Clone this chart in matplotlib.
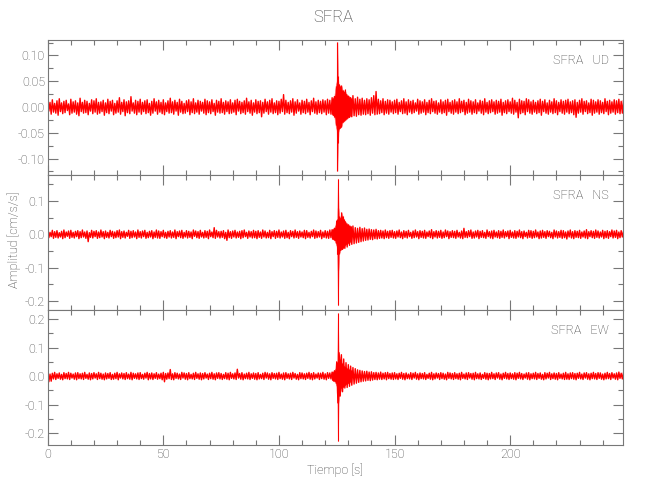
import matplotlib
matplotlib.use("Agg")
import matplotlib.pyplot as plt
import numpy as np
from matplotlib.ticker import MultipleLocator, FormatStrFormatter

plt.rcParams['font.family'] = ['Roboto', 'DejaVu Sans']
plt.rcParams['font.weight'] = 'light'

# trace envelopes: max/min of each 1 s bin, in units of 0.001 cm/s/s
t_base = list(range(250))

ud_hi = [24, 9, 14, 7, 12, 16, 8, 11, 13, 6, 15, 10, 12, 8, 17, 9, 13, 11, 7, 14, 12, 16, 9, 10, 13,
         8, 15, 11, 13, 7, 12, 18, 9, 14, 10, 12, 20, 8, 13, 11, 15, 9, 12, 14, 7, 11, 16, 10, 13, 9,
         14, 8, 12, 17, 10, 13, 9, 15, 11, 7, 12, 14, 10, 16, 8, 13, 11, 9, 15, 12, 10, 14, 7, 13, 11,
         16, 9, 12, 10, 14, 8, 13, 15, 11, 9, 12, 17, 10, 13, 8, 14, 11, 12, 9, 15, 10, 13, 16, 8, 12,
         11, 15, 24, 13, 9, 12, 16, 10, 14, 8, 13, 11, 15, 9, 12, 17, 10, 13, 11, 14, 12, 15, 13, 18, 20,
         30, 28, 25, 22, 24, 20, 18, 22, 16, 19, 15, 17, 13, 16, 14, 18, 22, 30, 15, 12, 16, 11, 14, 13, 10,
         13, 15, 9, 12, 16, 10, 14, 11, 13, 8, 15, 12, 10, 14, 9, 13, 16, 11, 12, 8, 14, 10, 13, 15, 9,
         12, 14, 10, 16, 11, 13, 9, 15, 12, 10, 14, 8, 13, 11, 16, 9, 12, 14, 10, 13, 11, 15, 9, 12, 14,
         10, 17, 13, 9, 15, 12, 11, 16, 14, 10, 13, 9, 12, 15, 11, 14, 8, 13, 10, 16, 12, 9, 14, 11, 13,
         15, 10, 12, 14, 9, 13, 16, 11, 12, 8, 15, 13, 10, 14, 12, 9, 16, 11, 13, 10, 14, 12, 15, 11, 13]
ud_lo = [-8, -14, -10, -12, -16, -9, -13, -11, -7, -15, -12, -10, -14, -17, -9, -12, -11, -15, -8, -13, -10, -14, -12, -9, -16,
         -11, -13, -8, -15, -12, -10, -14, -9, -17, -11, -13, -8, -12, -15, -10, -14, -9, -13, -11, -16, -12, -8, -14, -10, -13,
         -15, -9, -12, -11, -14, -8, -16, -10, -13, -12, -9, -15, -11, -13, -10, -14, -8, -12, -15, -11, -13, -9, -16, -10, -12,
         -11, -14, -9, -13, -12, -10, -15, -8, -13, -11, -14, -9, -12, -16, -10, -13, -11, -19, -12, -9, -14, -10, -13, -11, -15,
         -12, -9, -14, -11, -13, -10, -16, -12, -8, -14, -11, -13, -10, -15, -9, -12, -14, -11, -13, -10, -15, -12, -14, -16, -18,
         -30, -28, -26, -24, -22, -20, -19, -17, -18, -15, -16, -14, -15, -13, -16, -12, -15, -14, -13, -11, -15, -12, -14, -10, -13,
         -11, -14, -9, -13, -12, -15, -10, -13, -11, -8, -14, -12, -10, -15, -11, -13, -9, -12, -14, -10, -13, -11, -16, -9, -12,
         -14, -10, -13, -11, -9, -15, -12, -10, -14, -11, -13, -8, -12, -15, -10, -13, -11, -9, -14, -12, -10, -16, -11, -13, -9,
         -12, -14, -10, -21, -13, -11, -15, -9, -12, -14, -10, -13, -11, -16, -9, -12, -14, -10, -13, -11, -15, -9, -12, -14, -10,
         -13, -11, -15, -20, -12, -10, -14, -9, -13, -11, -16, -12, -10, -14, -11, -13, -9, -15, -12, -10, -14, -11, -13, -12, -10]

ns_hi = [10, 6, 12, 8, 11, 5, 9, 13, 7, 10, 12, 6, 9, 11, 8, 13, 7, 10, 5, 12, 9, 11, 7, 13, 8,
         10, 6, 12, 9, 7, 11, 13, 8, 10, 6, 12, 9, 11, 7, 13, 8, 10, 12, 6, 9, 11, 7, 13, 10, 8,
         12, 6, 9, 11, 7, 13, 8, 10, 12, 6, 11, 9, 7, 13, 10, 8, 12, 6, 11, 9, 13, 7, 20, 12, 8,
         9, 11, 6, 13, 8, 10, 12, 7, 9, 11, 13, 6, 10, 8, 12, 9, 11, 7, 13, 10, 6, 12, 8, 11, 9,
         13, 7, 10, 12, 6, 11, 9, 13, 8, 10, 7, 12, 11, 6, 9, 13, 10, 8, 12, 7, 11, 9, 13, 14, 18,
         40, 35, 30, 26, 28, 24, 22, 25, 20, 18, 21, 17, 19, 15, 16, 14, 13, 15, 11, 12, 10, 13, 9, 11, 12,
         8, 10, 13, 7, 11, 9, 12, 6, 10, 13, 8, 11, 9, 12, 7, 10, 14, 8, 11, 9, 12, 7, 13, 10, 8,
         11, 9, 12, 6, 10, 18, 8, 11, 13, 7, 10, 12, 9, 11, 6, 13, 8, 10, 12, 7, 11, 9, 13, 8, 10,
         12, 7, 11, 9, 13, 8, 10, 6, 12, 11, 9, 13, 7, 10, 12, 8, 11, 9, 6, 13, 10, 8, 12, 11, 7,
         10, 13, 8, 11, 9, 12, 7, 10, 14, 8, 11, 9, 13, 10, 7, 12, 9, 11, 8, 13, 10, 12, 7, 11, 9]
ns_lo = [-10, -7, -12, -9, -11, -8, -13, -10, -6, -12, -9, -11, -7, -13, -10, -8, -12, -22, -9, -11, -7, -12, -10, -8, -13,
         -9, -11, -7, -12, -10, -8, -13, -9, -11, -6, -12, -10, -8, -13, -9, -11, -7, -12, -10, -8, -13, -9, -11, -12, -7,
         -10, -12, -8, -11, -9, -13, -7, -10, -12, -8, -11, -9, -13, -6, -10, -12, -8, -11, -9, -13, -7, -10, -12, -8, -11,
         -9, -13, -18, -10, -12, -8, -11, -9, -13, -10, -7, -12, -8, -11, -10, -13, -9, -12, -8, -11, -10, -13, -7, -12, -9,
         -11, -8, -12, -10, -13, -7, -11, -9, -12, -8, -10, -13, -9, -11, -7, -12, -10, -8, -13, -9, -11, -12, -10, -14, -18,
         -60, -48, -45, -42, -38, -33, -30, -28, -26, -24, -22, -20, -18, -17, -15, -16, -13, -14, -12, -11, -13, -10, -12, -9, -11,
         -12, -8, -10, -13, -9, -11, -7, -12, -10, -8, -13, -9, -11, -12, -7, -10, -13, -8, -11, -9, -12, -10, -7, -13, -9,
         -10, -12, -8, -11, -13, -9, -10, -7, -12, -11, -8, -13, -9, -10, -12, -7, -11, -13, -8, -10, -12, -9, -11, -7, -13,
         -9, -11, -12, -8, -10, -13, -7, -11, -9, -12, -10, -8, -13, -11, -9, -12, -7, -10, -13, -8, -11, -9, -12, -10, -14,
         -8, -11, -13, -9, -10, -12, -8, -11, -13, -7, -10, -12, -9, -11, -8, -13, -10, -12, -7, -11, -9, -13, -10, -8, -12]

ew_hi = [12, 7, 10, 13, 8, 11, 6, 12, 9, 13, 10, 7, 11, 12, 8, 10, 13, 6, 11, 9, 12, 8, 13, 10, 7,
         11, 9, 12, 6, 10, 13, 8, 11, 9, 12, 7, 13, 10, 8, 11, 12, 6, 10, 13, 9, 11, 8, 12, 7, 10,
         13, 9, 11, 23, 8, 12, 10, 7, 13, 11, 9, 12, 6, 10, 13, 8, 11, 9, 12, 7, 10, 13, 8, 11, 12,
         9, 6, 12, 10, 13, 8, 11, 24, 9, 12, 7, 10, 13, 8, 11, 9, 12, 6, 10, 13, 11, 8, 12, 9, 10,
         13, 7, 11, 12, 8, 10, 13, 9, 6, 12, 11, 8, 10, 13, 9, 12, 7, 11, 10, 13, 8, 12, 11, 14, 18,
         50, 82, 75, 60, 47, 40, 35, 30, 26, 22, 20, 18, 16, 17, 14, 15, 12, 13, 11, 14, 10, 12, 13, 9, 11,
         12, 8, 10, 13, 9, 11, 7, 12, 10, 13, 8, 11, 9, 12, 6, 10, 13, 8, 11, 9, 12, 10, 7, 13, 11,
         9, 12, 8, 10, 13, 7, 11, 12, 9, 10, 13, 8, 11, 6, 12, 10, 9, 13, 8, 11, 12, 7, 10, 13, 9,
         11, 8, 12, 10, 13, 9, 7, 11, 12, 8, 10, 13, 9, 11, 6, 12, 10, 13, 8, 11, 9, 12, 7, 10, 13,
         8, 11, 12, 9, 10, 13, 7, 11, 12, 8, 10, 13, 9, 12, 11, 7, 10, 13, 9, 12, 8, 11, 14, 10, 12]
ew_lo = [-20, -18, -10, -12, -8, -11, -13, -9, -10, -12, -7, -11, -13, -9, -10, -12, -8, -11, -13, -10, -7, -12, -9, -11, -13,
         -10, -8, -12, -11, -9, -13, -7, -10, -12, -9, -11, -13, -8, -10, -12, -9, -11, -7, -13, -10, -12, -8, -11, -9, -13,
         -20, -11, -9, -12, -13, -8, -10, -12, -7, -11, -13, -9, -10, -12, -8, -11, -13, -10, -7, -12, -9, -11, -13, -8, -10,
         -12, -9, -11, -13, -8, -10, -12, -7, -11, -13, -9, -10, -12, -8, -11, -13, -10, -9, -12, -7, -11, -13, -8, -10, -12,
         -9, -11, -13, -8, -10, -12, -7, -11, -13, -9, -10, -12, -8, -11, -13, -10, -7, -12, -9, -11, -13, -8, -10, -14, -17,
         -94, -70, -55, -42, -40, -36, -32, -28, -25, -22, -20, -18, -17, -15, -16, -14, -12, -13, -11, -12, -10, -13, -9, -11, -12,
         -10, -12, -8, -11, -13, -9, -10, -12, -7, -11, -13, -9, -10, -12, -8, -11, -13, -10, -7, -12, -9, -11, -13, -8, -10,
         -12, -9, -11, -13, -8, -10, -12, -7, -11, -13, -9, -10, -12, -8, -11, -13, -10, -9, -12, -7, -11, -13, -8, -10, -12,
         -9, -11, -13, -8, -10, -12, -7, -11, -13, -9, -10, -12, -8, -11, -13, -10, -7, -12, -9, -11, -13, -8, -10, -12, -11,
         -12, -9, -11, -13, -8, -10, -12, -7, -11, -13, -9, -10, -12, -8, -11, -13, -10, -9, -12, -7, -11, -13, -8, -10, -12]

# finer envelope around the arrival
t_event = [123.0, 123.5, 124.0, 124.5, 125.0, 125.25, 125.5, 125.75, 126.0,
           126.5, 127.0, 127.5, 128.0, 128.5, 129.0, 130.0, 131.0]
ud_ev_hi = [15, 18, 22, 40, 50, 126, 60, 45, 44, 40, 42, 33, 30, 34, 26, 22, 18]
ud_ev_lo = [-14, -16, -20, -35, -45, -124, -70, -48, -42, -40, -38, -30, -28, -26, -24, -20, -17]
ns_ev_hi = [14, 16, 20, 28, 40, 45, 167, 80, 55, 50, 67, 55, 45, 40, 35, 30, 25]
ns_ev_lo = [-13, -15, -18, -26, -35, -60, -213, -108, -60, -48, -45, -42, -38, -33, -30, -26, -22]
ew_ev_hi = [14, 16, 20, 26, 35, 50, 220, 82, 75, 60, 47, 45, 35, 32, 30, 26, 22]
ew_ev_lo = [-14, -16, -19, -25, -35, -60, -228, -94, -70, -55, -42, -40, -36, -32, -28, -25, -20]

station = "SFRA"
components = ["UD", "NS", "EW"]
ylims = [(-0.132, 0.13), (-0.227, 0.178), (-0.242, 0.232)]
y_major = [0.05, 0.1, 0.1]
y_minor = [0.025, 0.05, 0.05]
y_fmt = ["%.2f", "%.1f", "%.1f"]

traces = [(ud_hi, ud_lo, ud_ev_hi, ud_ev_lo),
          (ns_hi, ns_lo, ns_ev_hi, ns_ev_lo),
          (ew_hi, ew_lo, ew_ev_hi, ew_ev_lo)]

gray = '#777777'
txt = '#3c3c3c'

fig = plt.figure(figsize=(6.5, 5), dpi=100)
bottoms = [0.65, 0.38, 0.11]
tb = np.array(t_base, dtype=float)
te = np.array(t_event)

for i, (hi, lo, ehi, elo) in enumerate(traces):
    ax = fig.add_axes([0.0734, bottoms[i], 0.8858, 0.27])
    hi = np.array(hi) / 1000.0
    lo = np.array(lo) / 1000.0
    ehi = np.array(ehi) / 1000.0
    elo = np.array(elo) / 1000.0

    # trace drawn as a line swinging between each bin's max and min
    zx = np.ravel(np.column_stack([tb, tb + 0.5]))
    zy = np.ravel(np.column_stack([hi, lo]))
    ax.plot(zx, zy, color='red', lw=1.0)
    ax.fill_between(te, elo, ehi, facecolor='red', edgecolor='#ff7070', lw=0.5)
    ax.vlines(te, elo, ehi, color='red', lw=0.8)

    ax.set_xlim(0, 249)
    ax.set_ylim(*ylims[i])
    ax.xaxis.set_major_locator(MultipleLocator(50))
    ax.xaxis.set_minor_locator(MultipleLocator(10))
    ax.yaxis.set_major_locator(MultipleLocator(y_major[i]))
    ax.yaxis.set_minor_locator(MultipleLocator(y_minor[i]))
    ax.yaxis.set_major_formatter(FormatStrFormatter(y_fmt[i]))
    ax.tick_params(which='both', direction='in', top=True, right=True,
                   color=gray, labelcolor=txt, labelsize=9, width=0.8, pad=2)
    ax.tick_params(which='major', length=7)
    ax.tick_params(which='minor', length=3.5)
    for s in ax.spines.values():
        s.set_color(gray)
        s.set_linewidth(0.8)
    if i < 2:
        ax.set_xticklabels([])
    ax.text(0.975, 0.845, station + "   " + components[i], transform=ax.transAxes,
            ha='right', va='center', fontsize=9, color=txt)

fig.text(0.512, 0.964, station, ha='center', va='center', fontsize=12, color=txt)
fig.text(0.515, 0.06, "Tiempo [s]", ha='center', va='center', fontsize=9, color=txt)
fig.text(0.022, 0.52, "Amplitud [cm/s/s]", ha='center', va='center', rotation=90,
         fontsize=9, color=txt)

fig.savefig("out.png", dpi=100)
